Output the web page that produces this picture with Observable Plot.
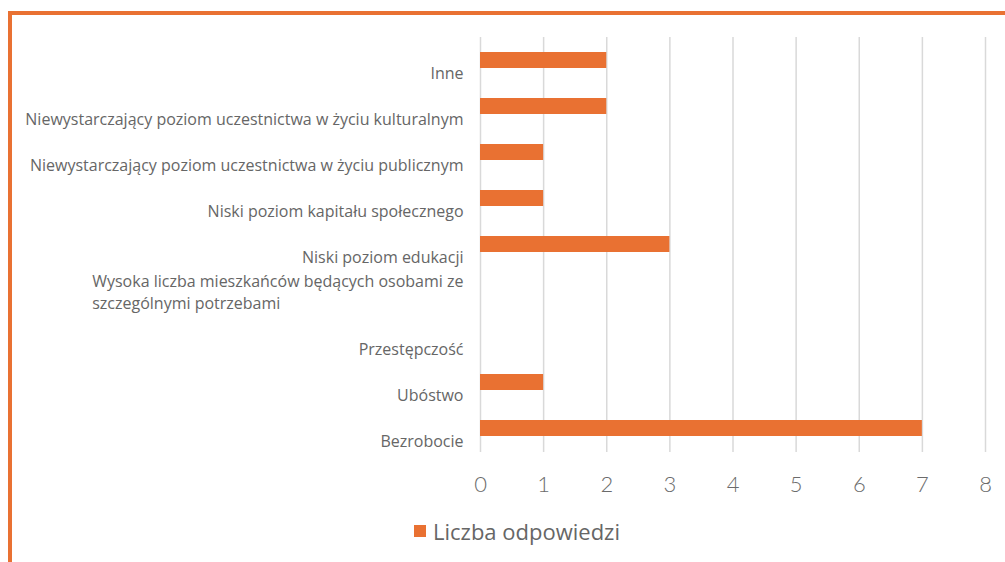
<!DOCTYPE html>
<html>
<head>
<meta charset="utf-8">
<script src="https://cdn.jsdelivr.net/npm/d3@7"></script>
<script src="https://cdn.jsdelivr.net/npm/@observablehq/plot@0.6"></script>
<style>
  html, body { margin: 0; padding: 0; background: #fff; width: 1005px; height: 562px; overflow: hidden; }
  #frame { position: absolute; left: 8px; top: 11px; width: 1100px; height: 600px;
           border-top: 4px solid #E97132; border-left: 4px solid #E97132; }
  #chart { position: absolute; left: 0; top: 0; }
  #legend { position: absolute; left: 414px; top: 516px; display: flex; align-items: center;
            font-family: "Open Sans", Lato, sans-serif; font-size: 22px; color: #666666; }
  #legend .sw { width: 12px; height: 12px; background: #E97132; margin-right: 7px; }
</style>
</head>
<body>
<div id="frame"></div>
<div id="chart"></div>
<div id="legend"><span class="sw"></span><span>Liczba odpowiedzi</span></div>
<script>
const categories = [
  "Inne",
  "Niewystarczający poziom uczestnictwa w życiu kulturalnym",
  "Niewystarczający poziom uczestnictwa w życiu publicznym",
  "Niski poziom kapitału społecznego",
  "Niski poziom edukacji",
  "Wysoka liczba mieszkańców będących osobami ze\nszczególnymi potrzebami",
  "Przestępczość",
  "Ubóstwo",
  "Bezrobocie"
];
const values = [2, 2, 1, 1, 3, 0, 0, 1, 7];
const xTicks = [0, 1, 2, 3, 4, 5, 6, 7, 8];
const seriesName = "Liczba odpowiedzi";

const data = categories.map((c, i) => ({category: c, value: values[i]}));

const plot = Plot.plot({
  width: 1005,
  height: 510,
  marginLeft: 480,
  marginRight: 20,
  marginTop: 37,
  marginBottom: 58,
  style: {fontFamily: "'Open Sans', Lato, sans-serif", background: "transparent"},
  x: {domain: [0, 8], ticks: xTicks},
  y: {domain: categories, paddingInner: 0.65, paddingOuter: 0.325, align: 0.5},
  marks: [
    Plot.gridX(xTicks, {stroke: "#d9d9d9", strokeOpacity: 1, strokeWidth: 1.5}),
    Plot.barX(data, {x: "value", y: "category", fill: "#E97132"}),
    Plot.axisX({ticks: xTicks, tickSize: 0, tickPadding: 24, fontSize: 22, fontWeight: 300, color: "#6b6b6b", label: null, fontFamily: "Lato, sans-serif"}),
    Plot.axisY({tickSize: 0, tickPadding: 17, fontSize: 16, color: "#666666", label: null, lineHeight: 1.38})
  ]
});
document.getElementById("chart").appendChild(plot);

// y-axis labels: shift single-line labels downward; left-align the wrapped label
const yTicks = plot.querySelectorAll("g[aria-label='y-axis tick label'] text");
yTicks.forEach(t => {
  const tspans = t.querySelectorAll("tspan");
  if (tspans.length > 1) {
    const w = tspans[0].getComputedTextLength();
    tspans.forEach(ts => { ts.setAttribute("text-anchor", "start"); ts.setAttribute("x", -w); });
    t.setAttribute("text-anchor", "start");
  } else {
    t.setAttribute("transform", (t.getAttribute("transform") || "") + " translate(0,11)");
  }
});
</script>
</body>
</html>
